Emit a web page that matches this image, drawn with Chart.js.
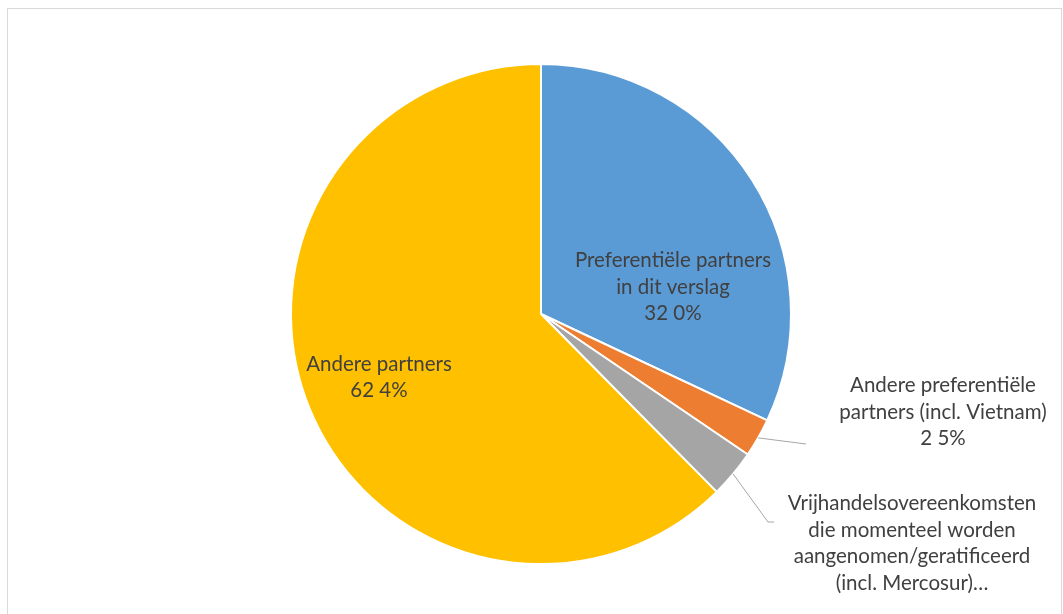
<!DOCTYPE html>
<html>
<head>
<meta charset="utf-8">
<script src="https://cdn.jsdelivr.net/npm/chart.js@4.4.1/dist/chart.umd.min.js"></script>
<style>
  html, body { margin: 0; padding: 0; background: #fff; }
  #wrap { position: relative; width: 1063px; height: 614px; }
  #frame { position: absolute; left: 7px; top: 8px; width: 1055px; height: 620px; border: 1px solid #d9d9d9; box-sizing: border-box; }
  canvas { position: absolute; left: 0; top: 0; }
</style>
</head>
<body>
<div id="wrap">
  <div id="frame"></div>
  <canvas id="pieChart" width="1063" height="614"></canvas>
</div>
<script>
// ── DATA ──────────────────────────────────────────────────────────────────────
const categories = [
  ["Preferentiële partners", "in dit verslag"],
  ["Andere preferentiële", "partners (incl. Vietnam)"],
  ["Vrijhandelsovereenkomsten", "die momenteel worden", "aangenomen/geratificeerd", "(incl. Mercosur)…"],
  ["Andere partners"]
];
const shares = [32.0, 2.5, 3.1, 62.4];
const valueLabels = ["32 0%", "2 5%", null, "62 4%"];
const colors = ["#5b9bd5", "#ed7d31", "#a5a5a5", "#ffc000"];

// label block centres relative to the pie centre (px), plus leader line end for outside ones
const labelLayout = [
  { dx: 132, dy: -27 },
  { dx: 402, dy: 98, leader: [265, 130] },
  { dx: 371, dy: 229.5, leader: [[227, 208], [233, 208]] },
  { dx: -162, dy: 63.5 }
];

// ── LABEL PLUGIN ──────────────────────────────────────────────────────────────
const pieLabels = {
  id: "pieLabels",
  afterDatasetsDraw(chart) {
    const ctx = chart.ctx;
    const meta = chart.getDatasetMeta(0);
    const lineH = 26.7;
    ctx.save();
    ctx.font = "20.5px Lato, 'Open Sans', sans-serif";
    ctx.fillStyle = "#404040";
    ctx.textAlign = "center";
    ctx.textBaseline = "middle";
    meta.data.forEach((arc, i) => {
      const cx = arc.x, cy = arc.y;
      const lay = labelLayout[i];
      const lines = categories[i].slice();
      if (valueLabels[i]) lines.push(valueLabels[i]);
      const x = cx + lay.dx, y = cy + lay.dy;
      const top = y - (lines.length - 1) * lineH / 2;
      lines.forEach((t, k) => ctx.fillText(t, x, top + k * lineH));

      if (lay.leader) {
        const mid = (arc.startAngle + arc.endAngle) / 2;
        const sx = cx + Math.cos(mid) * arc.outerRadius;
        const sy = cy + Math.sin(mid) * arc.outerRadius;
        const pts = Array.isArray(lay.leader[0]) ? lay.leader : [lay.leader];
        ctx.beginPath();
        ctx.strokeStyle = "#a6a6a6";
        ctx.lineWidth = 1;
        ctx.moveTo(sx, sy);
        pts.forEach(p => ctx.lineTo(cx + p[0], cy + p[1]));
        ctx.stroke();
      }
    });
    ctx.restore();
  }
};

// ── CHART ─────────────────────────────────────────────────────────────────────
new Chart(document.getElementById("pieChart"), {
  type: "pie",
  data: {
    labels: categories.map(c => c.join(" ")),
    datasets: [{
      data: shares,
      backgroundColor: colors,
      borderColor: "#ffffff",
      borderWidth: 2
    }]
  },
  options: {
    responsive: false,
    animation: false,
    layout: { padding: { top: 63, bottom: 49, left: 290, right: 271 } },
    plugins: {
      legend: { display: false },
      tooltip: { enabled: false }
    }
  },
  plugins: [pieLabels]
});
</script>
</body>
</html>
